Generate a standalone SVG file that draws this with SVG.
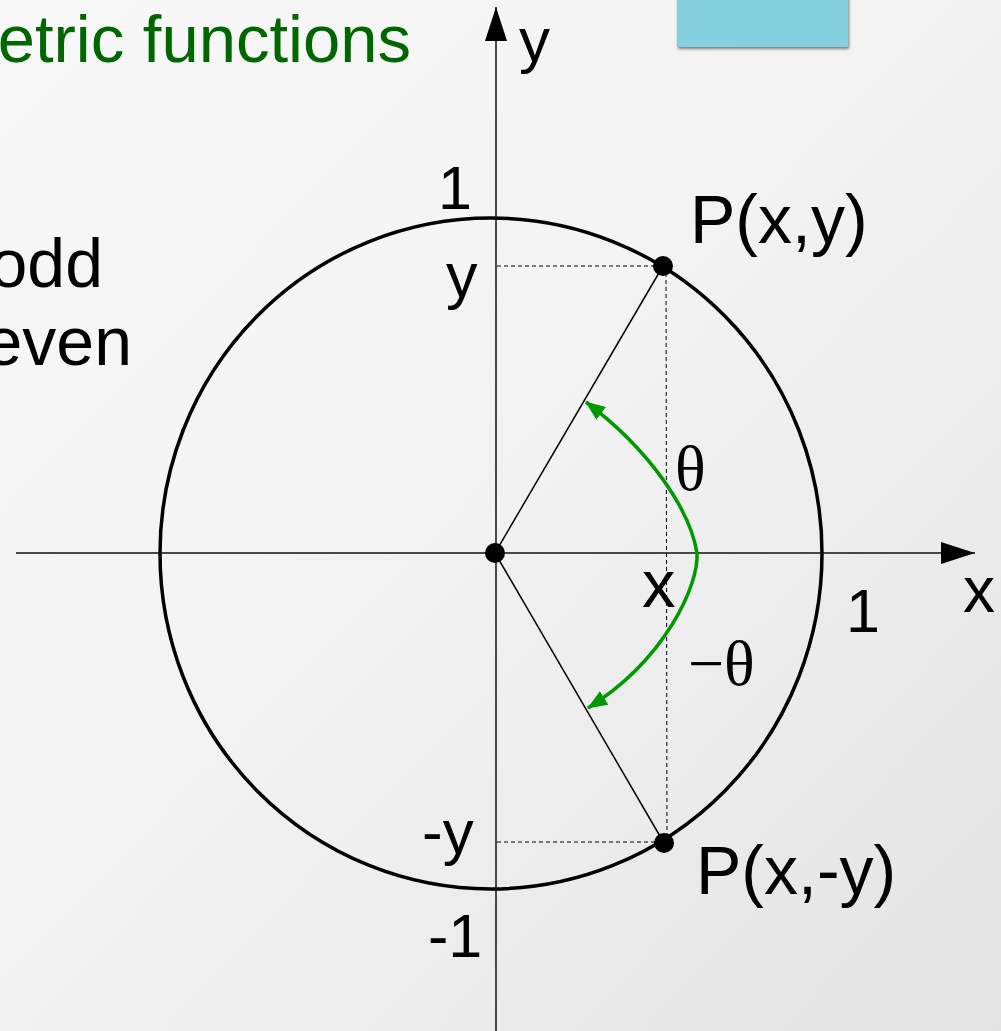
<svg xmlns="http://www.w3.org/2000/svg" width="1001" height="1031" viewBox="0 0 1001 1031">
<defs>
<linearGradient id="bg" x1="0" y1="0" x2="1" y2="1">
<stop offset="0" stop-color="#f8f8f8"/>
<stop offset="0.45" stop-color="#f3f3f3"/>
<stop offset="1" stop-color="#e3e3e3"/>
</linearGradient>
<filter id="sh" x="-10%" y="-10%" width="130%" height="140%">
<feGaussianBlur in="SourceAlpha" stdDeviation="1.5"/>
<feOffset dx="1" dy="2"/>
<feComponentTransfer><feFuncA type="linear" slope="0.5"/></feComponentTransfer>
<feMerge><feMergeNode/><feMergeNode in="SourceGraphic"/></feMerge>
</filter>
<marker id="ax" viewBox="0 0 34 22" refX="34" refY="11" markerWidth="34" markerHeight="22" markerUnits="userSpaceOnUse" orient="auto">
<path d="M0 0 L34 11 L0 22 Z" fill="#000"/>
</marker>
<marker id="ga" viewBox="0 0 20 16" refX="19" refY="8" markerWidth="20" markerHeight="16" markerUnits="userSpaceOnUse" orient="auto">
<path d="M0 0 L20 8 L0 16 Z" fill="#009900"/>
</marker>
</defs>
<style>
.lbl{font-family:"Liberation Sans",Arial,sans-serif;fill:#000}
.ser{font-family:"Liberation Serif","Times New Roman",serif;fill:#000}
.ax{stroke:#111;stroke-width:1.5;fill:none}
.thin{stroke:#000;stroke-width:1.5;fill:none}
.dash{stroke:#000;stroke-width:1;stroke-dasharray:4 3;fill:none}
.arc{stroke:#009900;stroke-width:3.5;fill:none}
.dot{fill:#000}
</style>
<rect x="0" y="0" width="1001" height="1031" fill="url(#bg)"/>
<g id="banner">
<rect x="677" y="-5" width="171" height="52" fill="#84d0de" filter="url(#sh)"/>
</g>
<g id="title">
<text class="lbl" x="411" y="62" font-size="67" text-anchor="end" style="fill:#006600">etric functions</text>
</g>
<g id="sidetext">
<text class="lbl" x="103" y="287" font-size="68" text-anchor="end">odd</text>
<text class="lbl" x="132" y="365" font-size="68" text-anchor="end">even</text>
</g>
<g id="unit-circle">
<ellipse cx="491" cy="553.5" rx="331" ry="335.5" fill="none" stroke="#000" stroke-width="3.5"/>
</g>
<g id="connectors">
<line class="ax" x1="16" y1="553" x2="975" y2="553" marker-end="url(#ax)"/>
<line class="ax" x1="496" y1="1031" x2="496" y2="7" marker-end="url(#ax)"/>
<line class="thin" x1="495" y1="553" x2="663" y2="266"/>
<line class="thin" x1="495" y1="553" x2="664" y2="843"/>
<line class="dash" x1="497" y1="266" x2="663" y2="266"/>
<line class="dash" x1="497" y1="842" x2="664" y2="842"/>
<line class="dash" x1="666" y1="266" x2="667" y2="842"/>
<path class="arc" d="M697 553 C690 510 650 450 586 402" marker-end="url(#ga)"/>
<path class="arc" d="M697 553 C699 585 665 660 588 708" marker-end="url(#ga)"/>
</g>
<g id="origin"><circle class="dot" cx="495" cy="553" r="10"/></g>
<g id="p1"><circle class="dot" cx="663" cy="266" r="10"/>
<text class="lbl" x="690" y="243" font-size="68">P(x,y)</text></g>
<g id="p2"><circle class="dot" cx="664" cy="843" r="10"/>
<text class="lbl" x="696" y="894" font-size="68">P(x,-y)</text></g>
<g id="labels">
<text class="lbl" x="519" y="61" font-size="62">y</text>
<text class="lbl" x="438" y="209" font-size="61">1</text>
<text class="lbl" x="446" y="297" font-size="63">y</text>
<text class="lbl" x="422" y="853" font-size="62">-y</text>
<text class="lbl" x="428" y="957" font-size="61">-1</text>
<text class="lbl" x="642" y="607" font-size="67">x</text>
<text class="lbl" x="846" y="632" font-size="61">1</text>
<text class="lbl" x="963" y="612" font-size="64">x</text>
<text class="ser" x="675" y="490" font-size="64">θ</text>
<text class="ser" x="688" y="685" font-size="64">−θ</text>
</g>
</svg>
